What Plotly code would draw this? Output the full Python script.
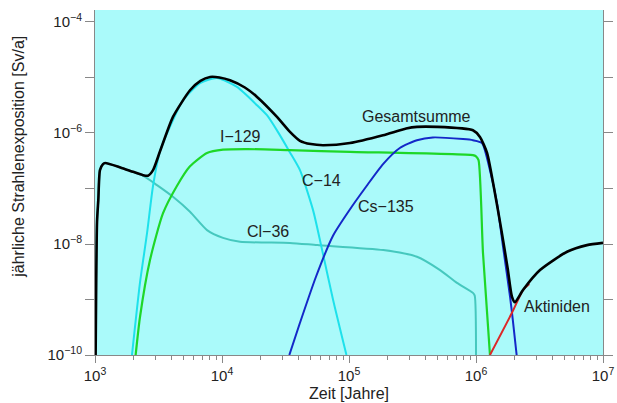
import numpy as np
import plotly.graph_objects as go

# log10(time in years), log10(dose in Sv/a)
gesamt_t = [3.005, 3.016, 3.026, 3.039, 3.063, 3.08, 3.2, 3.3, 3.378, 3.417, 3.457, 3.512, 3.614, 3.748, 3.83, 3.906, 3.98, 4.063, 4.18, 4.276, 4.433, 4.535, 4.614, 4.70, 4.795, 5.008, 5.268, 5.45, 5.535, 5.693, 5.976, 6.031, 6.087, 6.14, 6.2, 6.25, 6.283, 6.307, 6.37, 6.504, 6.717, 6.874, 7.0]
gesamt_v = [-10, -7.6, -7.21, -6.67, -6.56, -6.54, -6.62, -6.70, -6.76, -6.77, -6.67, -6.33, -5.71, -5.23, -5.06, -4.99, -5.0, -5.05, -5.18, -5.35, -5.71, -5.98, -6.14, -6.20, -6.22, -6.18, -6.04, -5.92, -5.89, -5.89, -5.95, -6.07, -6.36, -6.97, -7.75, -8.45, -8.95, -9.05, -8.83, -8.47, -8.14, -8.02, -7.98]

c14_t = [3.291, 3.354, 3.41, 3.457, 3.512, 3.59, 3.693, 3.827, 3.96, 4.118, 4.276, 4.354, 4.44, 4.535, 4.614, 4.717, 4.78, 4.874, 4.98]
c14_v = [-10, -8.70, -7.80, -6.95, -6.33, -5.89, -5.41, -5.10, -5.01, -5.17, -5.5, -5.68, -5.98, -6.35, -6.67, -7.39, -8.02, -9.0, -10]

i129_t = [3.32, 3.354, 3.433, 3.535, 3.646, 3.748, 3.882, 4.008, 4.2, 4.535, 5.008, 5.976, 6.0, 6.02, 6.055, 6.11]
i129_v = [-10, -9.32, -8.29, -7.45, -6.95, -6.6, -6.36, -6.30, -6.29, -6.31, -6.34, -6.40, -6.42, -6.49, -8.16, -10]

cl36_t = [3.0, 3.016, 3.026, 3.039, 3.063, 3.08, 3.2, 3.3, 3.378, 3.488, 3.614, 3.748, 3.882, 4.008, 4.142, 4.535, 4.75, 5.27, 5.535, 5.717, 5.85, 5.976, 5.99, 6.0]
cl36_v = [-10, -7.6, -7.21, -6.67, -6.56, -6.54, -6.62, -6.70, -6.77, -6.94, -7.15, -7.42, -7.75, -7.89, -7.96, -7.98, -8.02, -8.11, -8.23, -8.47, -8.70, -8.88, -8.93, -10]

cs135_t = [4.53, 4.614, 4.74, 4.874, 5.0, 5.14, 5.268, 5.40, 5.535, 5.66, 5.898, 5.976, 6.047, 6.11, 6.165, 6.213, 6.268, 6.29, 6.32]
cs135_v = [-10, -9.42, -8.59, -7.85, -7.40, -6.95, -6.56, -6.27, -6.13, -6.08, -6.11, -6.13, -6.18, -6.67, -7.26, -8.05, -8.95, -9.37, -10]

akt_t = [6.11, 6.283, 6.37, 6.42]
akt_v = [-10, -9.24, -8.83, -8.72]

x_ticks = [1e3, 1e4, 1e5, 1e6, 1e7]
x_ticktext = ["10<sup>3</sup>", "10<sup>4</sup>", "10<sup>5</sup>", "10<sup>6</sup>", "10<sup>7</sup>"]
y_ticks = [1e-10, 1e-8, 1e-6, 1e-4]
y_ticktext = ["10<sup>−10</sup>", "10<sup>−8</sup>", "10<sup>−6</sup>", "10<sup>−4</sup>"]
y_minor = [1e-9, 1e-7, 1e-5]

labels = ["Gesamtsumme", "I−129", "C−14", "Cs−135", "Cl−36", "Aktiniden"]

def pw(a):
    return np.power(10.0, np.array(a, dtype=float))

fig = go.Figure()
series = [
    (cl36_t, cl36_v, "rgb(70,200,190)", 2),
    (c14_t, c14_v, "rgb(30,225,235)", 2),
    (i129_t, i129_v, "rgb(30,215,40)", 2.2),
    (cs135_t, cs135_v, "rgb(20,40,200)", 2),
    (akt_t, akt_v, "rgb(220,40,40)", 2),
    (gesamt_t, gesamt_v, "black", 2.6),
]
for t, v, col, w in series:
    fig.add_trace(go.Scatter(x=pw(t), y=pw(v), mode="lines",
                             line=dict(color=col, width=w, shape="spline", smoothing=0.6),
                             showlegend=False, hoverinfo="skip"))

FONT = "Liberation Sans, Arial, sans-serif"
ann_pos = [(5.528, -5.71), (4.142, -6.07), (4.78, -6.85), (5.29, -7.33), (4.362, -7.78), (6.638, -9.135)]
for txt, (ax_, ay_) in zip(labels, ann_pos):
    fig.add_annotation(x=ax_, y=ay_, xref="x", yref="y", text=txt, showarrow=False,
                       xanchor="center", yanchor="middle",
                       font=dict(family=FONT, size=16, color="#222"))

fig.add_annotation(x=-0.15, y=0.574, xref="paper", yref="paper", text="jährliche Strahlenexposition [Sv/a]",
                   textangle=-90, showarrow=False, xanchor="center", yanchor="middle",
                   font=dict(family=FONT, size=16, color="#222"))
fig.add_annotation(x=0.5, y=-0.113, xref="paper", yref="paper", text="Zeit [Jahre]",
                   showarrow=False, xanchor="center", yanchor="middle",
                   font=dict(family=FONT, size=16, color="#222"))

minor_x = [m * 10.0 ** k for k in range(3, 7) for m in range(2, 10)]

fig.update_layout(
    width=617, height=403,
    margin=dict(l=95, r=14, t=10, b=48, autoexpand=False),
    paper_bgcolor="white", plot_bgcolor="rgb(170,250,250)",
    font=dict(family=FONT, size=15, color="#222"),
    hovermode=False,
    xaxis=dict(type="log", range=[3, 7], tickmode="array", tickvals=x_ticks, ticktext=x_ticktext,
               ticks="outside", ticklen=7, tickcolor="#888", showline=True, linecolor="#888",
               linewidth=1, showgrid=False, zeroline=False, automargin=False,
               ticklabeloverflow="allow",
               minor=dict(tickmode="array", tickvals=minor_x, ticks="outside", ticklen=4,
                          tickcolor="#888", showgrid=False)),
    yaxis=dict(type="log", range=[-10, -3.784], tickmode="array", tickvals=y_ticks, ticktext=y_ticktext,
               ticks="outside", ticklen=9, tickcolor="#888", showline=True, linecolor="#888",
               linewidth=1, mirror="ticks", showgrid=False, zeroline=False, automargin=False,
               minor=dict(tickmode="array", tickvals=y_minor, ticks="outside", ticklen=9,
                          tickcolor="#888", showgrid=False)),
)

fig.write_html("out.html", config={"displayModeBar": False, "staticPlot": True},
               post_script="document.body.style.margin='0';document.body.style.overflow='hidden';")
